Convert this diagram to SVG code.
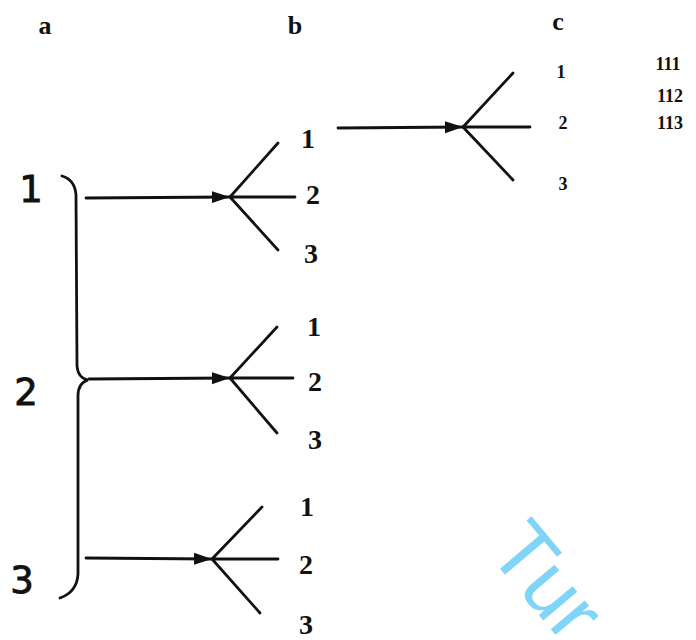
<svg xmlns="http://www.w3.org/2000/svg" width="696" height="640" viewBox="0 0 696 640">
<defs>
<style>
.ln{stroke:#111;stroke-width:2.8;fill:none;stroke-linecap:round}
.hd{font-family:"Liberation Serif",serif;font-weight:bold;font-size:26px;fill:#111;text-anchor:middle}
.big{font-family:"DejaVu Sans",sans-serif;font-size:37px;fill:#111;stroke:#111;stroke-width:0.9;text-anchor:middle}
.lb{font-family:"Liberation Serif",serif;font-weight:bold;font-size:28px;fill:#111;text-anchor:middle}
.sm{font-family:"Liberation Serif",serif;font-weight:bold;font-size:18px;fill:#111;text-anchor:middle}
.wm{font-family:"Liberation Sans",sans-serif;font-size:84px;fill:#7fd4f7}
</style>
<marker id="ah" markerUnits="userSpaceOnUse" markerWidth="20" markerHeight="14" refX="18" refY="7" orient="auto">
<path d="M0,1 L18,7 L0,13 Z" fill="#111"/>
</marker>
</defs>
<rect width="696" height="640" fill="#fff"/>
<g id="headers">
<text class="hd" x="45" y="34">a</text>
<text class="hd" x="295" y="34">b</text>
<text class="hd" x="558" y="30">c</text>
</g>
<g id="node-a">
<text class="big" x="31" y="202">1</text>
<text class="big" x="26" y="405">2</text>
<text class="big" x="22" y="593">3</text>
<path class="ln" d="M62,176 Q75,180 76,195 L77,366 Q78,378 88,380 Q78,383 78,396 L78,574 Q77,592 60,598"/>
</g>
<g id="node-b1">
<path class="ln" d="M230,197 L278,143 M230,197 L295,197 M230,197 L278,250"/>
<text class="lb" x="308" y="148">1</text>
<text class="lb" x="313" y="204">2</text>
<text class="lb" x="311" y="263">3</text>
</g>
<g id="node-b2">
<path class="ln" d="M230,378 L277,327 M230,378 L293,378 M230,378 L277,433"/>
<text class="lb" x="314" y="336">1</text>
<text class="lb" x="315" y="391">2</text>
<text class="lb" x="315" y="449">3</text>
</g>
<g id="node-b3">
<path class="ln" d="M212,559 L262,507 M212,559 L278,559 M212,559 L260,613"/>
<text class="lb" x="307" y="516">1</text>
<text class="lb" x="306" y="574">2</text>
<text class="lb" x="306" y="634">3</text>
</g>
<g id="node-c">
<path class="ln" d="M463,127 L513,73 M463,127 L530,127 M463,127 L513,180"/>
<text class="sm" x="561" y="78">1</text>
<text class="sm" x="563" y="129">2</text>
<text class="sm" x="563" y="190">3</text>
<text class="sm" x="668" y="70">111</text>
<text class="sm" x="670" y="102">112</text>
<text class="sm" x="670" y="129">113</text>
</g>
<g id="connectors">
<line class="ln" x1="86" y1="198" x2="230" y2="197" marker-end="url(#ah)"/>
<line class="ln" x1="89" y1="379" x2="230" y2="378" marker-end="url(#ah)"/>
<line class="ln" x1="86" y1="558" x2="212" y2="559" marker-end="url(#ah)"/>
<line class="ln" x1="338" y1="128" x2="463" y2="127" marker-end="url(#ah)"/>
</g>
<text class="wm" x="0" y="0" transform="translate(486,552) rotate(50)">Tur</text>
</svg>
